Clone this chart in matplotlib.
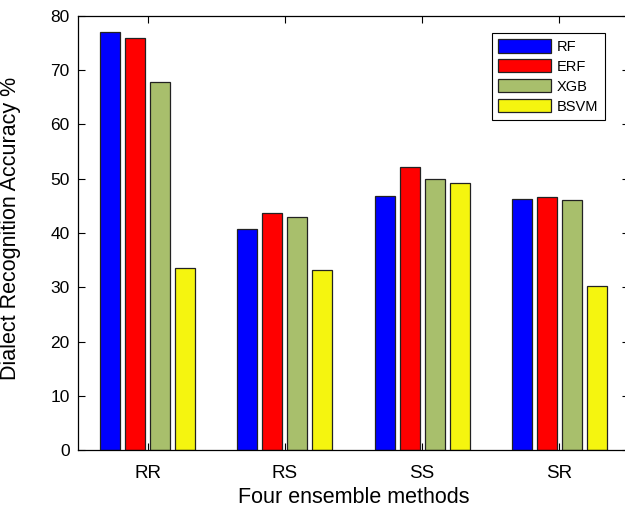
import matplotlib
matplotlib.use('Agg')
import matplotlib.pyplot as plt
import numpy as np

plt.rcParams['font.family'] = ['Liberation Sans', 'DejaVu Sans']

categories = ['RR', 'RS', 'SS', 'SR']
methods = ['RF', 'ERF', 'XGB', 'BSVM']
rf = [77.0, 40.8, 46.9, 46.2]
erf = [76.0, 43.6, 52.2, 46.6]
xgb = [67.8, 43.0, 50.0, 46.1]
bsvm = [33.5, 33.1, 49.2, 30.2]

colors = ['#0000ff', '#ff0000', '#a8bf6c', '#f5f50f']

fig = plt.figure(figsize=(6.25, 5.09), dpi=100)
ax = fig.add_axes([0.1248, 0.1159, 0.8816, 0.8527])

x = np.arange(1, len(categories) + 1)
step = 0.1825
width = 0.146
for i, (vals, name) in enumerate(zip([rf, erf, xgb, bsvm], methods)):
    ax.bar(x + (i - 1.5) * step, vals, width, color=colors[i], edgecolor='#222222',
           linewidth=0.9, label=name)

ax.set_xlim(0.49, 4.51)
ax.set_ylim(0, 80)
ax.set_xticks(x)
ax.set_xticklabels(categories)
ax.set_yticks(np.arange(0, 81, 10))
ax.tick_params(direction='in', top=True, right=True, length=5, width=0.8)
ax.tick_params(axis='x', labelsize=13.5, pad=11)
ax.tick_params(axis='y', labelsize=12.5, pad=6)
for s in ax.spines.values():
    s.set_linewidth(0.9)

ax.set_xlabel('Four ensemble methods', fontsize=15.5)
ax.set_ylabel('Dialect Recognition Accuracy %', fontsize=15.5)
ax.xaxis.set_label_coords(0.5, -0.086)
ax.yaxis.set_label_coords(-0.103, 0.51)

leg = ax.legend(loc='upper left', bbox_to_anchor=(0.751, 0.961), fontsize=10.5,
                handlelength=3.6, handleheight=1.0, handletextpad=0.4,
                labelspacing=0.37, borderpad=0.45, borderaxespad=0,
                fancybox=False, edgecolor='black', framealpha=1)
leg.get_frame().set_linewidth(0.8)

fig.savefig('out.png', dpi=100)
